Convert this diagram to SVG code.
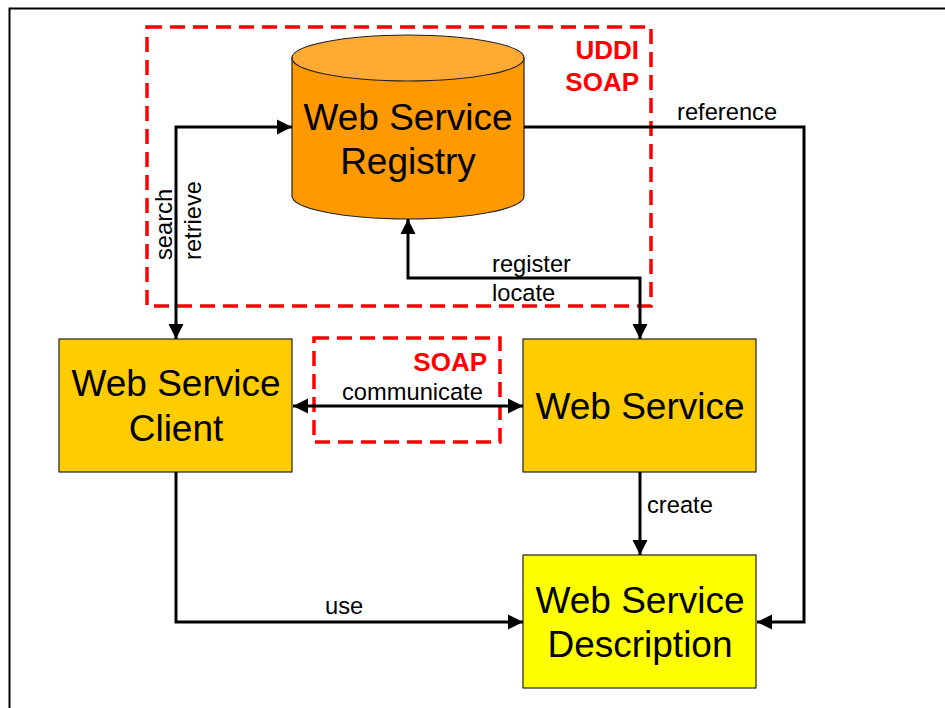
<svg xmlns="http://www.w3.org/2000/svg" width="945" height="708" viewBox="0 0 945 708">
<style>
.big{font-family:"Liberation Sans",Arial,sans-serif;font-size:37px;fill:#000;text-anchor:middle}
.lbl{font-family:"Liberation Sans",Arial,sans-serif;font-size:23.7px;fill:#000}
.red{font-family:"Liberation Sans",Arial,sans-serif;font-size:26px;font-weight:bold;fill:#FF0000;text-anchor:end}
.box{stroke:#222;stroke-width:1.2}
.dash{fill:none;stroke:#FF0000;stroke-width:3.5;stroke-dasharray:15 8}
.conn{fill:none;stroke:#000;stroke-width:3}
</style>
<defs>
<marker id="ah" markerUnits="userSpaceOnUse" markerWidth="16" markerHeight="16" viewBox="0 0 16 16" refX="15" refY="8" orient="auto-start-reverse">
<path d="M0,0.5 L15,8 L0,15.5 z" fill="#000"/>
</marker>
</defs>
<rect width="945" height="708" fill="#fff"/>
<g id="frame">
<path d="M9.5,708 L9.5,8.5 L945,8.5" fill="none" stroke="#000" stroke-width="2"/>
</g>
<g id="uddi-box">
<rect class="dash" x="147" y="27" width="504" height="279"/>
<text class="red" x="639" y="59">UDDI</text>
<text class="red" x="639" y="91">SOAP</text>
</g>
<g id="soap-box">
<rect class="dash" x="314" y="338" width="186" height="104"/>
<text class="red" x="487" y="371">SOAP</text>
</g>
<g id="registry">
<path class="box" d="M292,58 L292,196 A116,23 0 0 0 524,196 L524,58 Z" fill="#FF9900"/>
<ellipse class="box" cx="408" cy="58" rx="116" ry="23" fill="#FFAA33"/>
<text class="big" x="408" y="130">Web Service</text>
<text class="big" x="408" y="174">Registry</text>
</g>
<g id="client">
<rect class="box" x="59" y="339" width="233" height="133" fill="#FFCC00"/>
<text class="big" x="176" y="396">Web Service</text>
<text class="big" x="176" y="441">Client</text>
</g>
<g id="webservice">
<rect class="box" x="523" y="339" width="233" height="133" fill="#FFCC00"/>
<text class="big" x="640" y="419">Web Service</text>
</g>
<g id="description">
<rect class="box" x="523" y="555" width="233" height="133" fill="#FFFF00"/>
<text class="big" x="640" y="613">Web Service</text>
<text class="big" x="640" y="657">Description</text>
</g>
<g id="connectors">
<path class="conn" d="M176,339 L176,127 L292,127" marker-start="url(#ah)" marker-end="url(#ah)"/>
<path class="conn" d="M408,219 L408,278 L640,278 L640,339" marker-start="url(#ah)" marker-end="url(#ah)"/>
<path class="conn" d="M524,127 L804,127 L804,622 L757,622" marker-end="url(#ah)"/>
<path class="conn" d="M293,406 L523,406" marker-start="url(#ah)" marker-end="url(#ah)"/>
<path class="conn" d="M640,472 L640,555" marker-end="url(#ah)"/>
<path class="conn" d="M176,472 L176,622 L523,622" marker-end="url(#ah)"/>
<text class="lbl" transform="translate(172,260) rotate(-90)">search</text>
<text class="lbl" transform="translate(201,260) rotate(-90)">retrieve</text>
<text class="lbl" x="492" y="272">register</text>
<text class="lbl" x="492" y="301">locate</text>
<text class="lbl" x="677" y="120">reference</text>
<text class="lbl" x="342" y="400">communicate</text>
<text class="lbl" x="647" y="513">create</text>
<text class="lbl" x="325" y="614">use</text>
</g>
</svg>
